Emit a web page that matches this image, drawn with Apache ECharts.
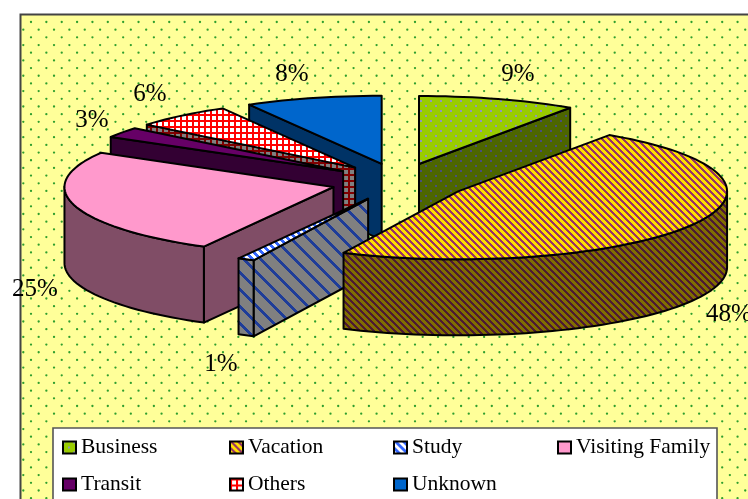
<!DOCTYPE html>
<html><head><meta charset="utf-8">
<style>html,body{margin:0;padding:0;background:#fff}#c{width:748px;height:499px}</style>
<script src="https://cdn.jsdelivr.net/npm/echarts@6/dist/echarts.min.js"></script>
</head><body><div id="c"></div>
<script>
// ---- data ----
const categories = ['Business','Vacation','Study','Visiting Family','Transit','Others','Unknown'];
const shares = [9.5,47.5,1.0,25.4,2.5,5.9,8.2];
const percentLabels = ['9%','48%','1%','25%','3%','6%','8%'];
const legendColumn1 = ['Business','Transit'];
const legendColumn2 = ['Vacation','Others'];
const legendColumn3 = ['Study','Unknown'];
const legendColumn4 = ['Visiting Family'];

// ---- layout / style ----
const FONT = '"Liberation Serif","Times New Roman",serif';
const W = 748, H = 499;
const pie = {cx:399, cy:182, rx:269, ry:68, depth:76, explodeX:68, explodeY:18.8};
const paintOrder = ['Business','Unknown','Others','Transit','Visiting Family','Study','Vacation'];
const labelAnchors = {
  'Business':[518,74],'Vacation':[729,314],'Study':[221,364],'Visiting Family':[35,289],
  'Transit':[92,120],'Others':[150,94],'Unknown':[292,74]
};

function tile(w,h,fn){const c=document.createElement('canvas');c.width=w;c.height=h;fn(c.getContext('2d'),w,h);return {image:c,repeat:'repeat'};}
function stripes(p,t,bg,fg){return tile(p,p,(g)=>{g.fillStyle=bg;g.fillRect(0,0,p,p);g.fillStyle=fg;
  for(let y=0;y<p;y++)for(let x=0;x<p;x++){if(((x-y)%p+p)%p<t)g.fillRect(x,y,1,1);}});}
function dots(p,bg,fg){return tile(p,p,(g)=>{g.fillStyle=bg;g.fillRect(0,0,p,p);g.fillStyle=fg;
  g.fillRect(0,0,2,2);g.fillRect(p/2,p/2,2,2);});}
function grid(p,t,bg,fg){return tile(p,p,(g)=>{g.fillStyle=bg;g.fillRect(0,0,p,p);g.fillStyle=fg;
  g.fillRect(0,0,t,p);g.fillRect(0,0,p,t);});}

const topFill = {
  'Business':dots(10,'#99CC00','#8F99B8'),
  'Vacation':stripes(7,3,'#FFE000','#993366'),
  'Study':stripes(8,4,'#FFFFFF','#3366FF'),
  'Visiting Family':'#FF99CC',
  'Transit':'#660066',
  'Others':grid(6,2,'#FFFFFF','#FF0000'),
  'Unknown':'#0066CC'
};
const sideFill = {
  'Business':dots(10,'#4D6600','#48507A'),
  'Vacation':stripes(7,3,'#806E00','#4D1A33'),
  'Study':stripes(17,4,'#808080','#1F3D99'),
  'Visiting Family':'#804D66',
  'Transit':'#330033',
  'Others':grid(6,2,'#808080','#800000'),
  'Unknown':'#003366'
};

// geometry derived from the shares
const total = shares.reduce((a,b)=>a+b,0);
const spans = {};
let acc = 0;
categories.forEach((n,i)=>{const a0=acc/total*2*Math.PI;acc+=shares[i];spans[n]=[a0,acc/total*2*Math.PI];});

function sliceShape(name){
  const [a0,a1]=spans[name], mid=(a0+a1)/2;
  const c=[pie.cx+pie.explodeX*Math.sin(mid), pie.cy-pie.explodeY*Math.cos(mid)];
  const n=Math.max(2,Math.ceil((a1-a0)/(2*Math.PI/180)));
  const arc=[];
  for(let i=0;i<=n;i++){const t=a0+(a1-a0)*i/n;arc.push([c[0]+pie.rx*Math.sin(t),c[1]-pie.ry*Math.cos(t)]);}
  return {c,arc};
}
function renderSlice(params,api){
  const name=params.seriesName;
  const {c,arc}=sliceShape(name);
  const outline=[c].concat(arc);
  const stroke={stroke:'#000',lineWidth:2,lineJoin:'round'};
  const children=[];
  // walls: every run of outline edges heading left faces the viewer
  const loop=outline.concat([c]);
  let run=null; const runs=[];
  for(let i=0;i<loop.length-1;i++){
    const facing=loop[i+1][0]-loop[i][0]<-1e-6;
    if(facing){ if(!run){run=[loop[i]];} run.push(loop[i+1]); if(i===0||i===loop.length-2){runs.push(run);run=null;} }
    else if(run){runs.push(run);run=null;}
  }
  if(run)runs.push(run);
  runs.forEach(r=>{
    const low=r.map(p=>[p[0],p[1]+pie.depth]).reverse();
    children.push({type:'polygon',shape:{points:r.concat(low)},style:Object.assign({fill:sideFill[name]},stroke)});
  });
  children.push({type:'polygon',shape:{points:outline},style:Object.assign({fill:topFill[name]},stroke)});
  const a=labelAnchors[name];
  children.push({type:'text',z2:50,style:{text:percentLabels[categories.indexOf(name)],x:a[0],y:a[1],
    align:'center',verticalAlign:'middle',font:'25px '+FONT,fill:'#000'}});
  return {type:'group',children};
}

// dotted plot background
const bgCanvas=document.createElement('canvas');bgCanvas.width=W;bgCanvas.height=H;
(function(){const g=bgCanvas.getContext('2d');g.fillStyle='#FFFF99';g.fillRect(0,0,W,H);g.fillStyle='#2E9E2E';
  for(let r=0;r<70;r++){const y=22+7.68*r,x0=r%2?23.3:31;
    for(let k=-1;k<50;k++){g.beginPath();g.arc(x0+15.36*k,y,1.15,0,2*Math.PI);g.fill();}}})();

function legendOpt(col,left){return {
  data:col.map(n=>({name:n,itemStyle:{color:topFill[n],borderColor:'#000',borderWidth:2}})),
  left:left,top:435,orient:'vertical',padding:0,itemGap:12,
  itemWidth:13,itemHeight:12,icon:'rect',selectedMode:false,
  textStyle:{fontFamily:FONT,fontSize:21.5,lineHeight:25,color:'#000'}};}

const chart=echarts.init(document.getElementById('c'),null,{renderer:'canvas'});
chart.setOption({
  animation:false,
  backgroundColor:'#fff',
  graphic:[
    {type:'rect',silent:true,z:-10,shape:{x:20.5,y:14.5,width:800,height:600},
      style:{fill:{image:bgCanvas,repeat:'no-repeat'},stroke:'#444',lineWidth:2}},
    {type:'rect',silent:true,z:-9,shape:{x:53,y:428,width:664,height:120},
      style:{fill:'#fff',stroke:'#555',lineWidth:1.6}}
  ],
  legend:[legendOpt(legendColumn1,62),legendOpt(legendColumn2,229),legendOpt(legendColumn3,393),legendOpt(legendColumn4,557)],
  series:paintOrder.map((n,i)=>({
    type:'custom',name:n,coordinateSystem:'none',z:2+i,clip:false,
    itemStyle:{color:topFill[n]},
    data:[shares[categories.indexOf(n)]],
    renderItem:renderSlice
  }))
});
</script></body></html>
